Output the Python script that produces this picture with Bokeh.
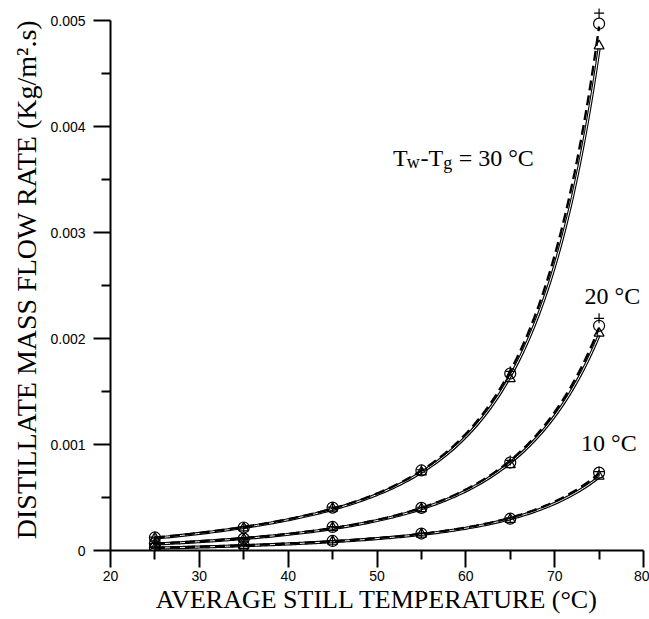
import numpy as np
from bokeh.plotting import figure
from bokeh.models import FixedTicker, Label, Range1d
from bokeh.embed import file_html
from bokeh.resources import INLINE

# Average still temperature (°C) at which the rates were evaluated
temps = [25, 35, 45, 55, 65, 75]

# Distillate mass flow rate (kg/m².s) for Tw - Tg = 30, 20 and 10 °C
rate30_circle = [0.000123, 0.000217, 0.000405, 0.000755, 0.00167, 0.00497]
rate30_tri = [0.000118, 0.000212, 0.000398, 0.000740, 0.00162, 0.00476]
rate30_plus = [0.000126, 0.000221, 0.000410, 0.000762, 0.00169, 0.00507]

rate20_circle = [0.000066, 0.000112, 0.000222, 0.000402, 0.00083, 0.00212]
rate20_tri = [0.000062, 0.000108, 0.000216, 0.000394, 0.00081, 0.00205]
rate20_plus = [0.000068, 0.000115, 0.000226, 0.000408, 0.00085, 0.00219]

rate10_circle = [0.000025, 0.000047, 0.000090, 0.000160, 0.000300, 0.000735]
rate10_tri = [0.000023, 0.000044, 0.000086, 0.000154, 0.000292, 0.000700]
rate10_plus = [0.000026, 0.000048, 0.000092, 0.000163, 0.000305, 0.000745]

x_ticks = [20, 30, 40, 50, 60, 70, 80]
y_ticks = [0, 0.001, 0.002, 0.003, 0.004, 0.005]
y_tick_labels = ["0", "0.001", "0.002", "0.003", "0.004", "0.005"]

SERIF = "Liberation Serif"
SANS = "Liberation Sans"

Y_MAX = 0.005
TOP = 8
BOTTOM = 69
HEIGHT = 619
# a little headroom above the axis end so the top markers are not clipped
frame_h = HEIGHT - TOP - BOTTOM
y_end = Y_MAX * frame_h / (frame_h - (20 - TOP))


def smooth(xs, ys, n=200):
    """Smooth curve through the points: cubic fit of log(rate) against temperature."""
    coef = np.polyfit(np.array(xs, float), np.log(np.array(ys, float)), 3)
    xx = np.linspace(min(xs), max(xs), n)
    return xx, np.exp(np.polyval(coef, xx))


p = figure(width=649, height=HEIGHT, output_backend="svg", toolbar_location=None,
           x_range=Range1d(20, 80), y_range=Range1d(0, y_end),
           min_border_left=110, min_border_right=6, min_border_top=TOP,
           min_border_bottom=BOTTOM)
p.outline_line_color = None
p.xgrid.visible = False
p.ygrid.visible = False
p.background_fill_color = "white"
p.border_fill_color = "white"

for circ, tri, plus in [(rate30_circle, rate30_tri, rate30_plus),
                        (rate20_circle, rate20_tri, rate20_plus),
                        (rate10_circle, rate10_tri, rate10_plus)]:
    xs, ys = smooth(temps, tri)
    p.line(xs, ys, line_color="black", line_width=3.2)
    p.line(xs, ys, line_color="white", line_width=1.0)
    xs, ys = smooth(temps, circ)
    p.line(xs, ys, line_color="black", line_width=2.4, line_dash="10 5")
    p.scatter(temps, circ, marker="circle", size=11, fill_color=None,
              line_color="black", line_width=1.2)
    p.scatter(temps, tri, marker="triangle", size=10, fill_color=None,
              line_color="black", line_width=1.2)
    p.scatter(temps, plus, marker="cross", size=10, line_color="black",
              line_width=1.2)

# axes
for ax in (p.xaxis[0], p.yaxis[0]):
    ax.axis_line_width = 2
    ax.axis_line_color = "black"
    ax.major_tick_line_width = 2
    ax.minor_tick_line_width = 2
    ax.major_tick_out = 17
    ax.major_tick_in = 0
    ax.minor_tick_out = 9
    ax.minor_tick_in = 0
    ax.major_label_text_font = SANS
    ax.major_label_text_font_size = "14px"
    ax.major_label_text_color = "black"
    ax.axis_label_text_font = SERIF
    ax.axis_label_text_font_style = "normal"
    ax.axis_label_text_color = "black"

p.xaxis.axis_label_text_font_size = "26px"
p.yaxis.axis_label_text_font_size = "28px"
p.yaxis.bounds = (0, Y_MAX)
p.xaxis.ticker = FixedTicker(ticks=x_ticks, minor_ticks=[25, 35, 45, 55, 65, 75])
p.yaxis.ticker = FixedTicker(ticks=y_ticks,
                             minor_ticks=[0.0005, 0.0015, 0.0025, 0.0035, 0.0045])
p.yaxis.major_label_overrides = {t: s for t, s in zip(y_ticks, y_tick_labels)}
p.xaxis.major_label_standoff = 3
p.yaxis.major_label_standoff = 8
p.xaxis.axis_label = "AVERAGE STILL TEMPERATURE (°C)"
p.yaxis.axis_label = "DISTILLATE MASS FLOW RATE (Kg/m².s)"
p.xaxis.axis_label_standoff = 1
p.yaxis.axis_label_standoff = 5


# curve labels
def add_text(x, y, text, size="24px", y_off=0, align="left"):
    p.add_layout(Label(x=x, y=y, text=text, text_font=SERIF,
                       text_font_size=size, text_color="black",
                       y_offset=y_off, text_align=align,
                       text_baseline="alphabetic"))


base30 = 0.00370
add_text(51.8, base30, "T")
add_text(53.35, base30, "w", size="18px", y_off=-4)
add_text(54.9, base30, "-T")
add_text(57.45, base30, "g", size="18px", y_off=-5)
add_text(59.2, base30, "= 30 °C")
add_text(76.5, 0.00240, "20 °C", align="center")
add_text(76.1, 0.00101, "10 °C", align="center")

open("out.html", "w").write(file_html(p, INLINE))
